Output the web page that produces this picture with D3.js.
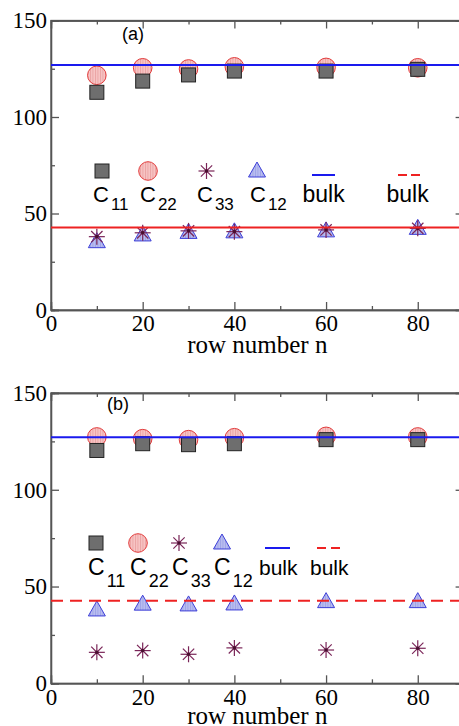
<!DOCTYPE html>
<html>
<head>
<meta charset="utf-8">
<script src="https://cdn.jsdelivr.net/npm/d3@7"></script>
<style>
  html, body { margin: 0; padding: 0; background: #fff; }
  svg { display: block; }
  .serif { font-family: "Liberation Serif", "Times New Roman", "DejaVu Serif", serif; }
  .sans { font-family: "Liberation Sans", Arial, "DejaVu Sans", sans-serif; }
</style>
</head>
<body>
<svg id="chart" width="459" height="726"></svg>
<script>
// ---------- data ----------
const rows = [10, 20, 30, 40, 60, 80];
const seriesNames = ["C11", "C22", "C33", "C12"];
const bulkLabels = ["bulk", "bulk"];
const xTicks = [0, 20, 40, 60, 80];
const xMinorTicks = [10, 30, 50, 70, 90];
const yTicks = [0, 50, 100, 150];
const yMinorTicks = [25, 75, 125];
const xTitle = "row number n";

// panel (a)
const aC11 = [112.8, 118.6, 121.8, 123.8, 123.8, 124.7];
const aC22 = [121.6, 125.5, 124.9, 126.0, 125.7, 125.5];
const aC33 = [38.0, 40.0, 41.0, 40.6, 41.5, 42.3];
const aC12 = [35.4, 38.9, 40.2, 40.5, 41.0, 42.3];
const aBulkBlue = 127;
const aBulkRed = 42.8;

// panel (b)
const bC11 = [120.3, 123.8, 123.3, 123.8, 125.9, 125.9];
const bC22 = [127.3, 126.4, 125.9, 126.9, 127.6, 127.3];
const bC33 = [16.0, 16.9, 15.0, 18.3, 17.2, 18.1];
const bC12 = [37.9, 40.9, 40.5, 41.0, 42.2, 42.2];
const bBulkBlue = 127.2;
const bBulkRed = 42.6;

// ---------- drawing ----------
const svg = d3.select("#chart");
const defs = svg.append("defs");

function stripePattern(id, base, stripe) {
  const p = defs.append("pattern").attr("id", id).attr("patternUnits", "userSpaceOnUse")
    .attr("width", 2.5).attr("height", 10);
  p.append("rect").attr("width", 2.5).attr("height", 10).attr("fill", base);
  p.append("rect").attr("width", 0.9).attr("height", 10).attr("fill", stripe);
}
stripePattern("pinkStripe", "#f7c4c4", "#eaa2a2");
stripePattern("blueStripe", "#b9bdf0", "#9ca2e6");

const colGray = "#6e6e6e", colCircle = "#e23b3b", colTri = "#3d3fd8", colStar = "#7a2558";
const colBlue = "#1a1aee", colRed = "#ee2222", axisCol = "#555";

const x = d3.scaleLinear().domain([0, 90]).range([51, 463.6]);

function square(g, cx, cy) {
  g.append("rect").attr("x", cx - 7).attr("y", cy - 7).attr("width", 14).attr("height", 14)
    .attr("fill", colGray).attr("stroke", "#222").attr("stroke-width", 1);
}
function circle(g, cx, cy) {
  g.append("circle").attr("cx", cx).attr("cy", cy).attr("r", 9.3)
    .attr("fill", "url(#pinkStripe)").attr("stroke", colCircle).attr("stroke-width", 1);
}
function triangle(g, cx, cy) {
  const w = 8.5, h = 15;
  g.append("path").attr("d", `M${cx},${cy - h * 0.6} L${cx + w},${cy + h * 0.4} L${cx - w},${cy + h * 0.4} Z`)
    .attr("fill", "url(#blueStripe)").attr("stroke", colTri).attr("stroke-width", 1);
}
function star(g, cx, cy) {
  const r = 8, d = r * Math.SQRT1_2;
  const segs = [[0, -r, 0, r], [-r, 0, r, 0], [-d, -d, d, d], [-d, d, d, -d]];
  segs.forEach(s => g.append("line").attr("x1", cx + s[0]).attr("y1", cy + s[1])
    .attr("x2", cx + s[2]).attr("y2", cy + s[3]).attr("stroke", colStar).attr("stroke-width", 1.2));
  g.append("circle").attr("cx", cx).attr("cy", cy).attr("r", 1.8).attr("fill", "#4a0f30");
}
const markers = [square, circle, star, triangle];

function panel(opts) {
  const y = d3.scaleLinear().domain([0, 150]).range([opts.y0, opts.y150]);
  const g = svg.append("g");
  const x0 = x.range()[0], x1 = x.range()[1];

  // frame
  g.append("rect").attr("x", x0).attr("y", y(150)).attr("width", x1 - x0).attr("height", y(0) - y(150))
    .attr("fill", "none").attr("stroke", axisCol).attr("stroke-width", 1.3);

  // axes
  g.append("g").attr("transform", `translate(0,${y(0)})`)
    .call(d3.axisBottom(x).tickValues(xTicks).tickSize(-8).tickPadding(5).tickFormat(d3.format("d")));
  g.append("g").attr("transform", `translate(0,${y(0)})`)
    .call(d3.axisBottom(x).tickValues(xMinorTicks).tickSize(-4).tickFormat(""));
  g.append("g").attr("transform", `translate(0,${y(150)})`)
    .call(d3.axisTop(x).tickValues(xTicks).tickSize(-8).tickFormat(""));
  g.append("g").attr("transform", `translate(0,${y(150)})`)
    .call(d3.axisTop(x).tickValues(xMinorTicks).tickSize(-4).tickFormat(""));
  g.append("g").attr("transform", `translate(${x0},0)`)
    .call(d3.axisLeft(y).tickValues(yTicks).tickSize(-8).tickPadding(4).tickFormat(d3.format("d")));
  g.append("g").attr("transform", `translate(${x0},0)`)
    .call(d3.axisLeft(y).tickValues(yMinorTicks).tickSize(-4).tickFormat(""));
  g.append("g").attr("transform", `translate(${x1},0)`)
    .call(d3.axisRight(y).tickValues(yTicks).tickSize(-8).tickFormat(""));
  g.append("g").attr("transform", `translate(${x1},0)`)
    .call(d3.axisRight(y).tickValues(yMinorTicks).tickSize(-4).tickFormat(""));
  g.selectAll(".domain").attr("stroke", axisCol).attr("stroke-width", 1.3);
  g.selectAll(".tick line").attr("stroke", axisCol).attr("stroke-width", 1.3);
  g.selectAll(".tick text").attr("class", "serif")
    .style("font-family", '"Liberation Serif", "Times New Roman", serif')
    .style("font-size", "23px").attr("fill", "#000");

  // axis title
  g.append("text").attr("class", "serif").attr("x", (x0 + x1) / 2).attr("y", opts.titleY).attr("text-anchor", "middle")
    .style("font-size", "25px").text(xTitle);

  // panel label
  g.append("text").attr("class", "sans").attr("x", opts.labX).attr("y", opts.labY)
    .style("font-size", "18px").text(opts.label);

  // data markers
  const series = [opts.c22, opts.c11, opts.c12, opts.c33];
  const fns = [circle, square, triangle, star];
  series.forEach((vals, i) => {
    vals.forEach((v, k) => fns[i](g, x(rows[k]), y(v)));
  });

  // bulk lines
  g.append("line").attr("x1", x0).attr("x2", x1).attr("y1", y(opts.blue)).attr("y2", y(opts.blue))
    .attr("stroke", colBlue).attr("stroke-width", 2);
  const red = g.append("line").attr("x1", x0).attr("x2", x1).attr("y1", y(opts.red)).attr("y2", y(opts.red))
    .attr("stroke", colRed).attr("stroke-width", 2);
  if (opts.redDashed) red.attr("stroke-dasharray", "12,7");

  // legend
  const L = opts.legend;
  seriesNames.forEach((name, i) => {
    markers[i](g, L.symX[i], L.symY);
    const t = g.append("text").attr("class", "sans").attr("x", L.txtX[i]).attr("y", L.txtY)
      .style("font-size", L.cSize + "px");
    t.append("tspan").text(name[0]);
    t.append("tspan").attr("dx", 2).attr("dy", L.subDy).style("font-size", L.subSize + "px").text(name.slice(1));
  });
  g.append("line").attr("x1", L.blueX[0]).attr("x2", L.blueX[1]).attr("y1", L.lineY).attr("y2", L.lineY)
    .attr("stroke", colBlue).attr("stroke-width", 2);
  g.append("line").attr("x1", L.redX[0]).attr("x2", L.redX[1]).attr("y1", L.lineY).attr("y2", L.lineY)
    .attr("stroke", colRed).attr("stroke-width", 2).attr("stroke-dasharray", L.redDash);
  bulkLabels.forEach((b, i) => {
    g.append("text").attr("class", "sans").attr("x", L.bulkX[i]).attr("y", L.txtY)
      .style("font-size", L.bulkSize + "px").text(b);
  });
}

panel({
  y0: 310, y150: 20.5, titleY: 353, label: "(a)", labX: 122, labY: 39.5,
  c11: aC11, c22: aC22, c33: aC33, c12: aC12, blue: aBulkBlue, red: aBulkRed, redDashed: false,
  legend: {
    symX: [102, 148, 206.5, 257], symY: 171,
    txtX: [93, 140, 197, 250], txtY: 202, cSize: 22, subSize: 17, subDy: 8,
    blueX: [312, 335], redX: [398, 420], redDash: "9,4", lineY: 175,
    bulkX: [302.5, 386.5], bulkSize: 23
  }
});

panel({
  y0: 683.3, y150: 393, titleY: 723.5, label: "(b)", labX: 107, labY: 410,
  c11: bC11, c22: bC22, c33: bC33, c12: bC12, blue: bBulkBlue, red: bBulkRed, redDashed: true,
  legend: {
    symX: [96, 138, 179, 222], symY: 543,
    txtX: [88, 130, 172, 214], txtY: 575, cSize: 23, subSize: 18, subDy: 12,
    blueX: [265, 290], redX: [317, 340], redDash: "9,5", lineY: 548,
    bulkX: [259, 310], bulkSize: 21
  }
});
</script>
</body>
</html>
